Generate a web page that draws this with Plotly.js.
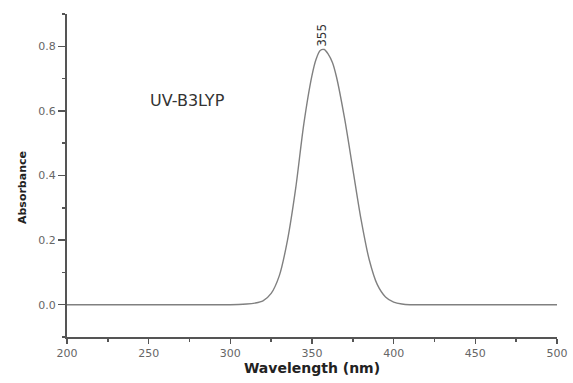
<!DOCTYPE html>
<html><head><meta charset="utf-8">
<script src="https://cdn.plot.ly/plotly-3.0.1.min.js"></script>
<style>html,body{margin:0;padding:0;background:#fff}#chart{width:573px;height:383px}</style>
</head><body><div id="chart"></div>
<script>
const wavelength = [200,220,240,260,280,300,305,310,315,320,325,330,335,340,345,350,352.5,355,357.5,360,362.5,365,370,375,380,385,390,395,400,405,410,420,440,460,480,500];
const absorbance = [0,0,0,0,0,0,0.0005,0.002,0.005,0.012,0.035,0.09,0.2,0.36,0.56,0.71,0.76,0.787,0.79,0.775,0.75,0.705,0.575,0.42,0.265,0.14,0.062,0.024,0.008,0.002,0,0,0,0,0,0];
const peakLabel = "355";
const peakX = 356;
const peakY = 0.79;
const methodLabel = "UV-B3LYP";
const xTitle = "Wavelength (nm)";
const yTitle = "Absorbance";

const data = [{
  x: wavelength, y: absorbance, type: 'scatter', mode: 'lines',
  line: {color: '#808080', width: 1.4, shape: 'spline', smoothing: 0.8},
  hoverinfo: 'skip'
}];
const axisCol = '#555';
const layout = {
  width: 573, height: 383,
  margin: {l: 67, r: 16, t: 14, b: 46},
  paper_bgcolor: '#fff', plot_bgcolor: '#fff',
  showlegend: false,
  font: {family: 'DejaVu Sans, sans-serif', color: '#555', size: 11},
  xaxis: {
    range: [200, 500], dtick: 50, tick0: 200,
    showgrid: false, zeroline: false,
    showline: true, linecolor: axisCol, linewidth: 2,
    ticks: 'outside', ticklen: 5, tickwidth: 1.5, tickcolor: axisCol,
    minor: {dtick: 25, ticks: 'outside', ticklen: 3, tickwidth: 1.5, tickcolor: axisCol},
    tickfont: {size: 11, color: '#666'},
    title: {text: '<b>' + xTitle + '</b>', font: {size: 14, color: '#222'}, standoff: 4}
  },
  yaxis: {
    range: [-0.1, 0.9], dtick: 0.2, tick0: 0,
    tickformat: '.1f',
    showgrid: false, zeroline: false,
    showline: true, linecolor: axisCol, linewidth: 2,
    ticks: 'outside', ticklen: 7, tickwidth: 1.5, tickcolor: axisCol,
    minor: {dtick: 0.1, ticks: 'outside', ticklen: 3, tickwidth: 1.5, tickcolor: axisCol},
    tickfont: {size: 11, color: '#666'}
  },
  annotations: [
    {x: peakX, y: peakY, xref: 'x', yref: 'y', text: peakLabel, showarrow: false,
     textangle: -90, yanchor: 'bottom', yshift: 1, font: {size: 12, color: '#333'}},
    {x: 249.6, y: 0.633, xref: 'x', yref: 'y', text: methodLabel, showarrow: false,
     xanchor: 'left', font: {size: 16, color: '#333'}},
    {x: -0.092, y: 0.364, xref: 'paper', yref: 'y', text: '<b>' + yTitle + '</b>', showarrow: false,
     textangle: -90, xanchor: 'center', yanchor: 'middle', font: {size: 11, color: '#222'}}
  ]
};
Plotly.newPlot('chart', data, layout, {displayModeBar: false, staticPlot: true});
</script></body></html>
